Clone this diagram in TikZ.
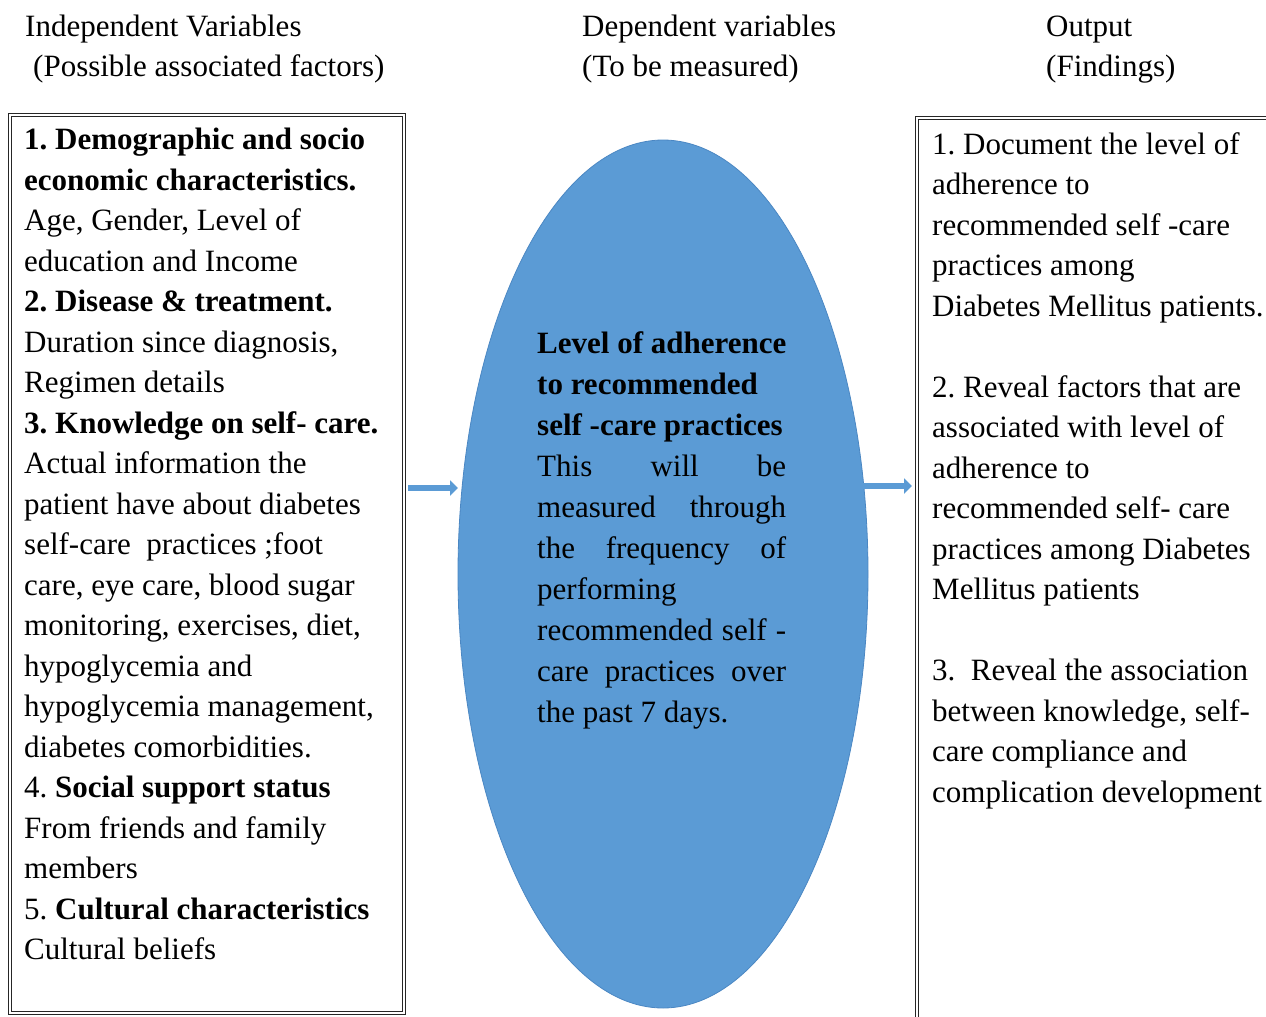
\documentclass[tikz,border=0pt]{standalone}
\usepackage{fontspec}
\setmainfont{Liberation Serif}
\usetikzlibrary{arrows.meta,shapes.geometric}
\definecolor{ellblue}{RGB}{91,155,213}
\definecolor{elledge}{RGB}{75,135,195}
\tikzset{
  dbox/.style={draw=black!85, double=white, line width=1.1pt, double distance=2pt},
  hdr/.style={anchor=base west, inner sep=0pt, font=\fontsize{31}{40.5}\selectfont},
  body/.style={anchor=north west, inner sep=0pt, align=left, font=\fontsize{31}{40.5}\selectfont},
  flow/.style={draw=ellblue, line width=6.5pt, -{Triangle[length=8pt,width=15pt]}}
}
\newcommand{\jline}[1]{\hbox to 249pt{#1}}
\frenchspacing
\begin{document}
\begin{tikzpicture}[x=1pt,y=-1pt]
\useasboundingbox (0,0) rectangle (1266,1017);
% headers
\node[hdr] (h1a) at (25,36) {Independent Variables};
\node[hdr] (h1b) at (33,76) {(Possible associated factors)};
\node[hdr] (h2a) at (582,36) {Dependent variables};
\node[hdr] (h2b) at (582,76) {(To be measured)};
\node[hdr] (h3a) at (1046,36) {Output};
\node[hdr] (h3b) at (1046,76) {(Findings)};
% boxes
\draw[dbox] (10,115) rectangle (404,1013);
\node (lbox) at (207,564) [minimum width=394pt, minimum height=898pt, inner sep=0pt] {};
\draw[dbox] (917,118) rectangle (1290,1040);
\node (rbox) at (1103,579) [minimum width=373pt, minimum height=922pt, inner sep=0pt] {};
% ellipse
\node (ell) at (663,574) [ellipse, draw=elledge, fill=ellblue, line width=0.8pt, minimum width=410pt, minimum height=868pt, inner sep=0pt] {};
% left text
\node[body] (ltext) at (24,128) {%
\textbf{1. Demographic and socio}\\
\textbf{economic characteristics.}\\
Age, Gender, Level of\\
education and Income\\
\textbf{2. Disease \& treatment.}\\
Duration since diagnosis,\\
Regimen details\\
\textbf{3. Knowledge on self- care.}\\
Actual information the\\
patient have about diabetes\\
self-care\ \ practices ;foot\\
care, eye care, blood sugar\\
monitoring, exercises, diet,\\
hypoglycemia and\\
hypoglycemia management,\\
diabetes comorbidities.\\
4. \textbf{Social support status}\\
From friends and family\\
members\\
5. \textbf{Cultural characteristics}\\
Cultural beliefs};
% right text
\node[body] (rtext) at (932,132) {%
1. Document the level of\\
adherence to\\
recommended self -care\\
practices among\\
Diabetes Mellitus patients.\\
\mbox{}\\
2. Reveal factors that are\\
associated with level of\\
adherence to\\
recommended self- care\\
practices among Diabetes\\
Mellitus patients\\
\mbox{}\\
3.\ \ Reveal the association\\
between knowledge, self-\\
care compliance and\\
complication development};
% ellipse text
\node[body, font=\fontsize{31}{41}\selectfont] (etext) at (537,331) {%
\textbf{Level of adherence}\\
\textbf{to recommended}\\
\textbf{self -care practices}\\
\jline{This\hfill will\hfill be}\\
\jline{measured\hfill through}\\
\jline{the\hfill frequency\hfill of}\\
performing\\
\jline{recommended\hfill self\hfill -}\\
\jline{care\hfill practices\hfill over}\\
the past 7 days.};
% arrows
\coordinate (a1) at (408,488);
\coordinate (a2) at (862,486);
\draw[flow] (a1) -- (458,488);
\draw[flow] (a2) -- (912,486);
\end{tikzpicture}
\end{document}
